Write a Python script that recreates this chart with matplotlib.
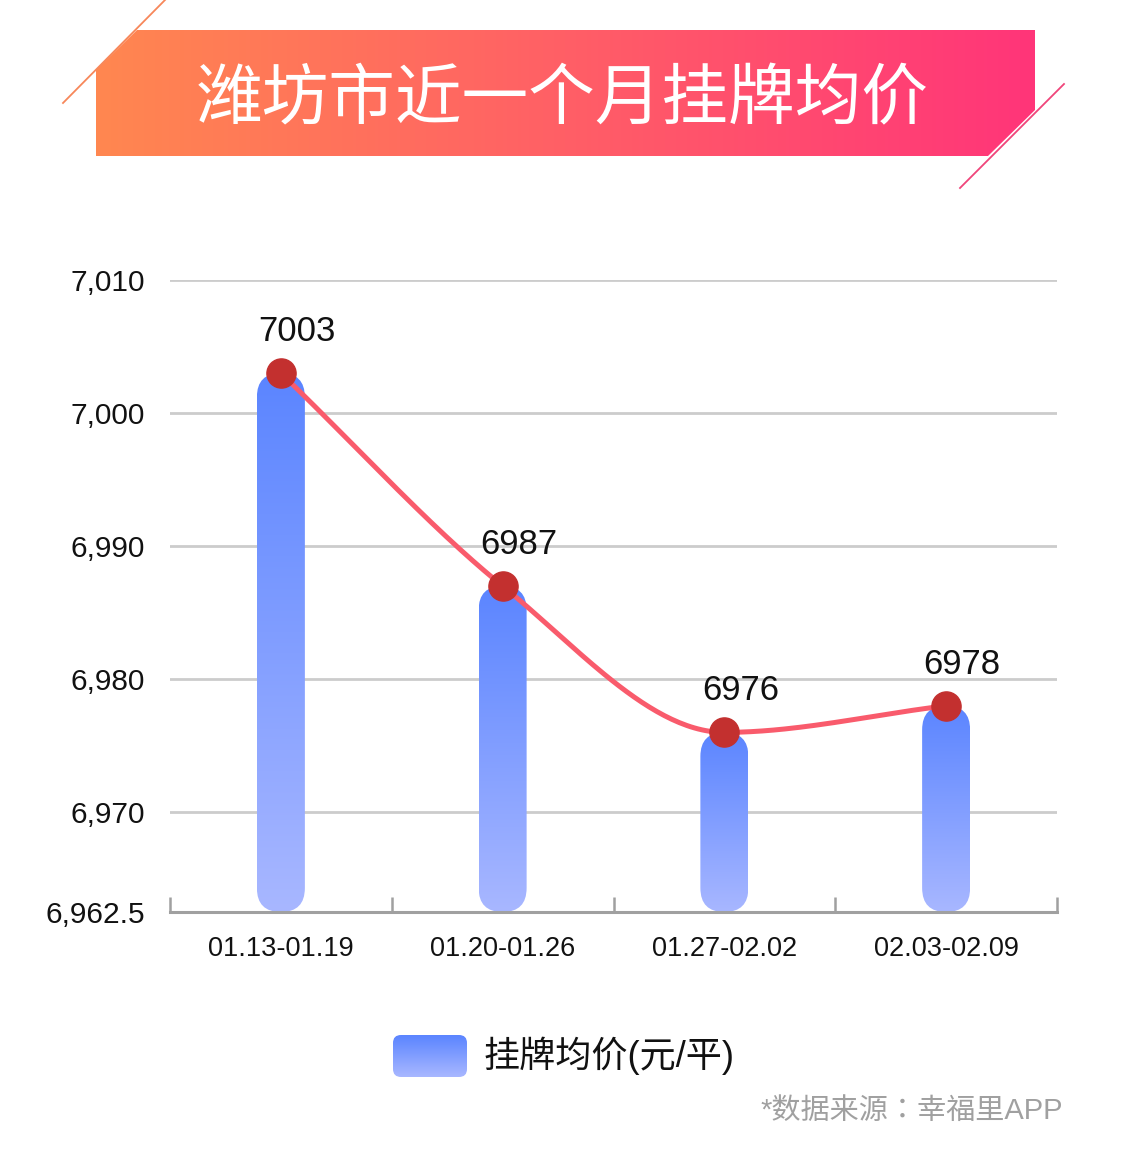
import numpy as np
import matplotlib
matplotlib.use("Agg")
import matplotlib.pyplot as plt
from matplotlib.patches import FancyBboxPatch, Polygon
from matplotlib.colors import LinearSegmentedColormap

plt.rcParams["font.family"] = ["Liberation Sans", "Noto Sans CJK SC", "DejaVu Sans"]

periodos = ["01.13-01.19", "01.20-01.26", "01.27-02.02", "02.03-02.09"]
precos = [7003, 6987, 6976, 6978]
yticks = [6962.5, 6970, 6980, 6990, 7000, 7010]
ytick_labels = ["6,962.5", "6,970", "6,980", "6,990", "7,000", "7,010"]

titulo = "潍坊市近一个月挂牌均价"
legenda = "挂牌均价(元/平)"
fonte = "*数据来源：幸福里APP"

cmap_barra = LinearSegmentedColormap.from_list("barra", ["#a8b7ff", "#5b85ff"])
cmap_titulo = LinearSegmentedColormap.from_list("titulo", ["#ff8750", "#ff5f66", "#ff3579"])


def curva_monotona(xs, ys, n=60):
    # interpolacao cubica monotona (so para desenhar a linha suave)
    xs = np.asarray(xs, float)
    ys = np.asarray(ys, float)
    h = np.diff(xs)
    d = np.diff(ys) / h
    m = np.empty(len(xs))
    m[0], m[-1] = d[0], d[-1]
    for k in range(1, len(xs) - 1):
        m[k] = 0.0 if d[k - 1] * d[k] <= 0 else (d[k - 1] + d[k]) / 2
    for k in range(len(d)):
        if d[k] == 0:
            m[k] = m[k + 1] = 0
            continue
        a, b = m[k] / d[k], m[k + 1] / d[k]
        s = a * a + b * b
        if s > 9:
            t = 3 / np.sqrt(s)
            m[k], m[k + 1] = t * a * d[k], t * b * d[k]
    px, py = [], []
    for k in range(len(d)):
        t = np.linspace(0, 1, n)
        h00 = 2 * t**3 - 3 * t**2 + 1
        h10 = t**3 - 2 * t**2 + t
        h01 = -2 * t**3 + 3 * t**2
        h11 = t**3 - t**2
        px.append(xs[k] + t * h[k])
        py.append(h00 * ys[k] + h10 * h[k] * m[k] + h01 * ys[k + 1] + h11 * h[k] * m[k + 1])
    return np.concatenate(px), np.concatenate(py)


fig = plt.figure(figsize=(11.25, 11.52), dpi=100)
ax = fig.add_axes([170 / 1125, 240 / 1152, 887 / 1125, 632 / 1152])
ax.set_facecolor("none")
ax.set_xlim(-0.5, len(periodos) - 0.5)
ax.set_ylim(yticks[0], yticks[-1])

p0 = ax.transData.transform((0, 0))
p1 = ax.transData.transform((1, 1))
aspecto = (p1[0] - p0[0]) / (p1[1] - p0[1])

# barras arredondadas com gradiente
larg = 48 / (p1[0] - p0[0])
grad = np.linspace(0, 1, 256).reshape(-1, 1)
for i, v in enumerate(precos):
    caixa = FancyBboxPatch((i - larg / 2, yticks[0]), larg, v - yticks[0],
                           boxstyle=f"round,pad=0,rounding_size={larg / 2}",
                           mutation_aspect=aspecto, facecolor="none", edgecolor="none")
    ax.add_patch(caixa)
    im = ax.imshow(grad, cmap=cmap_barra, origin="lower", aspect="auto",
                   extent=(i - larg / 2, i + larg / 2, yticks[0], v), zorder=2)
    im.set_clip_path(caixa)

# linha suave + pontos
cx, cy = curva_monotona(range(len(precos)), precos)
ax.plot(cx, cy, color="#f95b6c", linewidth=3.6, zorder=3, solid_capstyle="round")
ax.plot(range(len(precos)), precos, "o", color="#c3302f", markersize=21, zorder=4)
for i, v in enumerate(precos):
    ax.annotate(str(v), (i, v), xytext=(11.5, 23), textcoords="offset points",
                ha="center", va="baseline", fontsize=25, color="#111111", zorder=5)

ax.set_xlim(-0.5, len(periodos) - 0.5)
ax.set_ylim(yticks[0], yticks[-1])

ax.set_yticks(yticks)
ax.set_yticklabels(ytick_labels)
ax.set_xticks(range(len(periodos)))
ax.set_xticklabels(periodos)
ax.set_xticks(np.arange(-0.5, len(periodos)), minor=True)
ax.tick_params(axis="y", length=0, pad=18, labelsize=21.5, labelcolor="#111111")
ax.tick_params(axis="x", which="major", length=0, pad=17, labelsize=19.5, labelcolor="#111111")
ax.tick_params(axis="x", which="minor", direction="in", length=11, width=1.8, color="#a0a0a0")
ax.yaxis.grid(True, color="#cccccc", linewidth=2)
ax.set_axisbelow(True)
for lado in ["left", "right", "top"]:
    ax.spines[lado].set_visible(False)
ax.spines["bottom"].set_color("#a0a0a0")
ax.spines["bottom"].set_linewidth(2.2)
ax.spines["bottom"].set_zorder(2.5)

# camada em pixels para titulo, legenda e fonte
ov = fig.add_axes([0, 0, 1, 1])
ov.set_xlim(0, 1125)
ov.set_ylim(1152, 0)
ov.axis("off")

faixa = Polygon([(137, 30), (1035, 30), (1035, 110), (988, 156), (96, 156), (96, 70)],
                closed=True, facecolor="none", edgecolor="none")
ov.add_patch(faixa)
im = ov.imshow(np.linspace(0, 1, 256).reshape(1, -1), cmap=cmap_titulo, aspect="auto",
               extent=(96, 1035, 156, 30), origin="upper")
im.set_clip_path(faixa)
ov.plot([63, 165], [103, 0], color="#f7875a", linewidth=1.3)
ov.plot([960, 1064], [188, 84], color="#f0457a", linewidth=1.3)
ov.text(562, 101, titulo, ha="center", va="center", fontsize=48, color="white",
        family=["Noto Sans CJK SC"])

chave = FancyBboxPatch((393, 1035), 74, 42, boxstyle="round,pad=0,rounding_size=8",
                       facecolor="none", edgecolor="none")
ov.add_patch(chave)
im = ov.imshow(np.linspace(1, 0, 64).reshape(-1, 1), cmap=cmap_barra, aspect="auto",
               extent=(393, 467, 1077, 1035), origin="upper")
im.set_clip_path(chave)
ov.text(484, 1056, legenda, ha="left", va="center", fontsize=26, color="#111111")
ov.text(1063, 1111, fonte, ha="right", va="center", fontsize=21, color="#a0a0a0",
        family=["Liberation Sans", "Noto Sans CJK TC"])

ov.set_xlim(0, 1125)
ov.set_ylim(1152, 0)

fig.savefig("out.png", dpi=100)
